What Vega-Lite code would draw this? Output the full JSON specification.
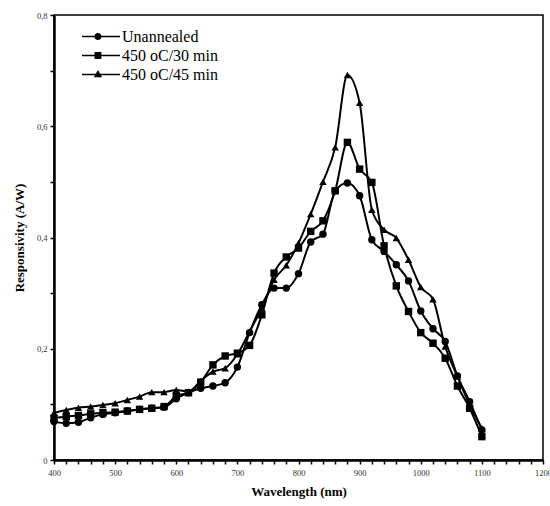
{
 "$schema": "https://vega.github.io/schema/vega-lite/v6.json",
 "width": 489, "height": 445,
 "autosize": "none",
 "padding": {"left": 54, "top": 15, "right": 7, "bottom": 46},
 "background": "white",
 "config": {"view": {"stroke": "black", "strokeWidth": 1.5}, "font": "Liberation Serif"},
 "datasets": {
  "d": [
   {"series":"Unannealed","wl":400,"r":0.069},{"series":"Unannealed","wl":420,"r":0.066},{"series":"Unannealed","wl":440,"r":0.068},{"series":"Unannealed","wl":460,"r":0.076},{"series":"Unannealed","wl":480,"r":0.082},{"series":"Unannealed","wl":500,"r":0.085},{"series":"Unannealed","wl":520,"r":0.088},{"series":"Unannealed","wl":540,"r":0.091},{"series":"Unannealed","wl":560,"r":0.093},{"series":"Unannealed","wl":580,"r":0.095},{"series":"Unannealed","wl":600,"r":0.11},{"series":"Unannealed","wl":620,"r":0.121},{"series":"Unannealed","wl":640,"r":0.129},{"series":"Unannealed","wl":660,"r":0.133},{"series":"Unannealed","wl":680,"r":0.139},{"series":"Unannealed","wl":700,"r":0.167},{"series":"Unannealed","wl":720,"r":0.229},{"series":"Unannealed","wl":740,"r":0.279},{"series":"Unannealed","wl":760,"r":0.309},{"series":"Unannealed","wl":780,"r":0.309},{"series":"Unannealed","wl":800,"r":0.335},{"series":"Unannealed","wl":820,"r":0.392},{"series":"Unannealed","wl":840,"r":0.406},{"series":"Unannealed","wl":860,"r":0.484},{"series":"Unannealed","wl":880,"r":0.498},{"series":"Unannealed","wl":900,"r":0.475},{"series":"Unannealed","wl":920,"r":0.396},{"series":"Unannealed","wl":940,"r":0.375},{"series":"Unannealed","wl":960,"r":0.351},{"series":"Unannealed","wl":980,"r":0.322},{"series":"Unannealed","wl":1000,"r":0.268},{"series":"Unannealed","wl":1020,"r":0.236},{"series":"Unannealed","wl":1040,"r":0.213},{"series":"Unannealed","wl":1060,"r":0.151},{"series":"Unannealed","wl":1080,"r":0.105},{"series":"Unannealed","wl":1100,"r":0.054},
   {"series":"450 oC/30 min","wl":400,"r":0.075},{"series":"450 oC/30 min","wl":420,"r":0.078},{"series":"450 oC/30 min","wl":440,"r":0.08},{"series":"450 oC/30 min","wl":460,"r":0.083},{"series":"450 oC/30 min","wl":480,"r":0.085},{"series":"450 oC/30 min","wl":500,"r":0.086},{"series":"450 oC/30 min","wl":520,"r":0.088},{"series":"450 oC/30 min","wl":540,"r":0.091},{"series":"450 oC/30 min","wl":560,"r":0.093},{"series":"450 oC/30 min","wl":580,"r":0.096},{"series":"450 oC/30 min","wl":600,"r":0.115},{"series":"450 oC/30 min","wl":620,"r":0.121},{"series":"450 oC/30 min","wl":640,"r":0.14},{"series":"450 oC/30 min","wl":660,"r":0.171},{"series":"450 oC/30 min","wl":680,"r":0.187},{"series":"450 oC/30 min","wl":700,"r":0.192},{"series":"450 oC/30 min","wl":720,"r":0.206},{"series":"450 oC/30 min","wl":740,"r":0.261},{"series":"450 oC/30 min","wl":760,"r":0.336},{"series":"450 oC/30 min","wl":780,"r":0.365},{"series":"450 oC/30 min","wl":800,"r":0.381},{"series":"450 oC/30 min","wl":820,"r":0.411},{"series":"450 oC/30 min","wl":840,"r":0.43},{"series":"450 oC/30 min","wl":860,"r":0.484},{"series":"450 oC/30 min","wl":880,"r":0.571},{"series":"450 oC/30 min","wl":900,"r":0.523},{"series":"450 oC/30 min","wl":920,"r":0.499},{"series":"450 oC/30 min","wl":940,"r":0.385},{"series":"450 oC/30 min","wl":960,"r":0.313},{"series":"450 oC/30 min","wl":980,"r":0.267},{"series":"450 oC/30 min","wl":1000,"r":0.229},{"series":"450 oC/30 min","wl":1020,"r":0.21},{"series":"450 oC/30 min","wl":1040,"r":0.183},{"series":"450 oC/30 min","wl":1060,"r":0.133},{"series":"450 oC/30 min","wl":1080,"r":0.093},{"series":"450 oC/30 min","wl":1100,"r":0.042},
   {"series":"450 oC/45 min","wl":400,"r":0.085},{"series":"450 oC/45 min","wl":420,"r":0.09},{"series":"450 oC/45 min","wl":440,"r":0.094},{"series":"450 oC/45 min","wl":460,"r":0.096},{"series":"450 oC/45 min","wl":480,"r":0.099},{"series":"450 oC/45 min","wl":500,"r":0.102},{"series":"450 oC/45 min","wl":520,"r":0.108},{"series":"450 oC/45 min","wl":540,"r":0.114},{"series":"450 oC/45 min","wl":560,"r":0.122},{"series":"450 oC/45 min","wl":580,"r":0.122},{"series":"450 oC/45 min","wl":600,"r":0.126},{"series":"450 oC/45 min","wl":620,"r":0.123},{"series":"450 oC/45 min","wl":640,"r":0.142},{"series":"450 oC/45 min","wl":660,"r":0.159},{"series":"450 oC/45 min","wl":680,"r":0.165},{"series":"450 oC/45 min","wl":700,"r":0.19},{"series":"450 oC/45 min","wl":720,"r":0.231},{"series":"450 oC/45 min","wl":740,"r":0.273},{"series":"450 oC/45 min","wl":760,"r":0.324},{"series":"450 oC/45 min","wl":780,"r":0.35},{"series":"450 oC/45 min","wl":800,"r":0.39},{"series":"450 oC/45 min","wl":820,"r":0.442},{"series":"450 oC/45 min","wl":840,"r":0.5},{"series":"450 oC/45 min","wl":860,"r":0.562},{"series":"450 oC/45 min","wl":880,"r":0.692},{"series":"450 oC/45 min","wl":900,"r":0.642},{"series":"450 oC/45 min","wl":920,"r":0.45},{"series":"450 oC/45 min","wl":940,"r":0.414},{"series":"450 oC/45 min","wl":960,"r":0.399},{"series":"450 oC/45 min","wl":980,"r":0.36},{"series":"450 oC/45 min","wl":1000,"r":0.311},{"series":"450 oC/45 min","wl":1020,"r":0.289},{"series":"450 oC/45 min","wl":1040,"r":0.204},{"series":"450 oC/45 min","wl":1060,"r":0.15},{"series":"450 oC/45 min","wl":1080,"r":0.099},{"series":"450 oC/45 min","wl":1100,"r":0.057}
  ]
 },
 "data": {"name": "d"},
 "encoding": {
  "x": {"field": "wl", "type": "quantitative",
   "scale": {"domain": [400, 1200], "nice": false, "zero": false},
   "axis": {"title": "Wavelength (nm)", "titleFont": "Liberation Serif", "titleFontSize": 13, "titleFontWeight": "bold", "titleColor": "black", "titlePadding": 9,
    "values": [400,420,440,460,480,500,520,540,560,580,600,620,640,660,680,700,720,740,760,780,800,820,840,860,880,900,920,940,960,980,1000,1020,1040,1060,1080,1100,1120,1140,1160,1180,1200],
    "labelExpr": "datum.value % 100 == 0 ? datum.label : ''",
    "format": "d",
    "labelFont": "Liberation Serif", "labelFontSize": 8.5, "labelColor": "#333", "labelPadding": 4, "labelOverlap": false, "labelFlush": false,
    "tickSize": 4, "tickColor": "black", "tickWidth": 1.5, "domainColor": "black", "domainWidth": 2.5, "grid": false}},
  "y": {"field": "r", "type": "quantitative",
   "scale": {"domain": [0, 0.8], "nice": false},
   "axis": {"title": "Responsivity (A/W)", "titleFont": "Liberation Serif", "titleFontSize": 13, "titleFontWeight": "bold", "titleColor": "black", "titlePadding": 10,
    "values": [0, 0.1, 0.2, 0.3, 0.4, 0.5, 0.6, 0.7, 0.8],
    "labelExpr": "round(datum.value*10) % 2 == 1 ? '' : (datum.value == 0 ? '0' : replace(format(datum.value, '.1f'), '.', ','))",
    "labelFont": "Liberation Serif", "labelFontSize": 8.5, "labelColor": "#333", "labelPadding": 3, "labelOverlap": false, "labelFlush": false,
    "tickSize": 4, "tickColor": "black", "tickWidth": 1.5, "domainColor": "black", "domainWidth": 2.5, "grid": false}}
 },
 "layer": [
  {"mark": {"type": "line", "interpolate": "monotone", "color": "black", "strokeWidth": 2},
   "encoding": {"detail": {"field": "series"}}},
  {"mark": {"type": "point", "filled": true, "color": "black", "opacity": 1, "size": 55},
   "encoding": {"shape": {"field": "series", "type": "nominal",
     "scale": {"domain": ["Unannealed", "450 oC/30 min", "450 oC/45 min"], "range": ["circle", "square", "triangle-up"]},
     "legend": null}}},
  {"transform": [{"filter": "datum.wl < 0"}],
   "mark": {"type": "point", "filled": true, "color": "black", "opacity": 1},
   "encoding": {"shape": {"field": "series", "type": "nominal",
     "scale": {"domain": ["Unannealed", "450 oC/30 min", "450 oC/45 min"],
      "range": ["M-1,-0.045H1V0.045H-1ZM-0.35,0A0.19,0.19,0,1,1,0.03,0A0.19,0.19,0,1,1,-0.35,0Z",
                "M-1,-0.045H1V0.045H-1ZM-0.34,-0.18H0.02V0.18H-0.34Z",
                "M-1,-0.045H1V0.045H-1ZM-0.16,-0.24L0.06,0.15L-0.38,0.15Z"]},
     "legend": {"orient": "none", "legendX": 28, "legendY": 12, "title": null,
      "labelFont": "Liberation Serif", "labelFontSize": 16, "labelColor": "black", "labelOffset": 2, "rowPadding": 0, "clipHeight": 19,
      "symbolSize": 1444, "symbolFillColor": "black", "symbolStrokeWidth": 0, "symbolOpacity": 1}}}}
 ],
 "resolve": {"scale": {"shape": "independent"}}
}
